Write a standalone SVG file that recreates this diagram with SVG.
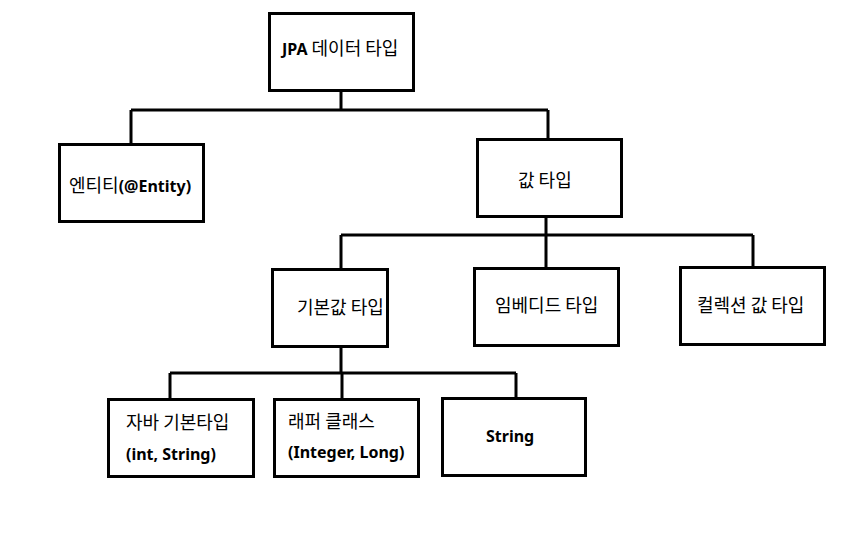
<svg xmlns="http://www.w3.org/2000/svg" width="856" height="537" viewBox="0 0 856 537">
<style>
.box{fill:#fff;stroke:#000;stroke-width:3}
.ln{fill:none;stroke:#000;stroke-width:3}
text{font-family:"Noto Sans CJK KR","Noto Sans",sans-serif;font-size:18px;fill:#000}
.b{font-family:"Noto Sans","Noto Sans CJK KR",sans-serif;font-weight:bold;font-size:16px}
</style>
<rect width="856" height="537" fill="#fff"/>
<g id="connectors">
<path class="ln" d="M341 92V110M131 110H548M131 110V143M548 110V139"/>
<path class="ln" d="M546 218V235M341 235H753M341 235V269M546 235V268M753 235V267"/>
<path class="ln" d="M341 347V373M170 373H516M170 373V399M342 373V399M516 373V398"/>
</g>
<g id="n-jpa"><rect class="box" x="269.5" y="13.5" width="144" height="77"/><text x="282" y="55"><tspan class="b">JPA</tspan> 데이터 타입</text></g>
<g id="n-entity"><rect class="box" x="59.5" y="144.5" width="144" height="77"/><text x="69" y="192">엔티티<tspan class="b">(@Entity)</tspan></text></g>
<g id="n-value"><rect class="box" x="477.5" y="139.5" width="144" height="77"/><text x="518" y="187">값 타입</text></g>
<g id="n-basic"><rect class="box" x="272.5" y="269.5" width="115" height="77"/><text x="297" y="314">기본값 타입</text></g>
<g id="n-embedded"><rect class="box" x="474.5" y="268.5" width="144" height="77"/><text x="495" y="312">임베디드 타입</text></g>
<g id="n-collection"><rect class="box" x="680.5" y="267.5" width="144" height="77"/><text x="697" y="312">컬렉션 값 타입</text></g>
<g id="n-java"><rect class="box" x="108.5" y="399.5" width="145" height="77"/><text x="126" y="429">자바 기본타입</text><text class="b" x="126" y="460">(int, String)</text></g>
<g id="n-wrapper"><rect class="box" x="274.5" y="399.5" width="144" height="77"/><text x="288" y="428">래퍼 클래스</text><text class="b" x="288" y="458">(Integer, Long)</text></g>
<g id="n-string"><rect class="box" x="442.5" y="398.5" width="143" height="77"/><text class="b" x="486" y="442">String</text></g>
</svg>
